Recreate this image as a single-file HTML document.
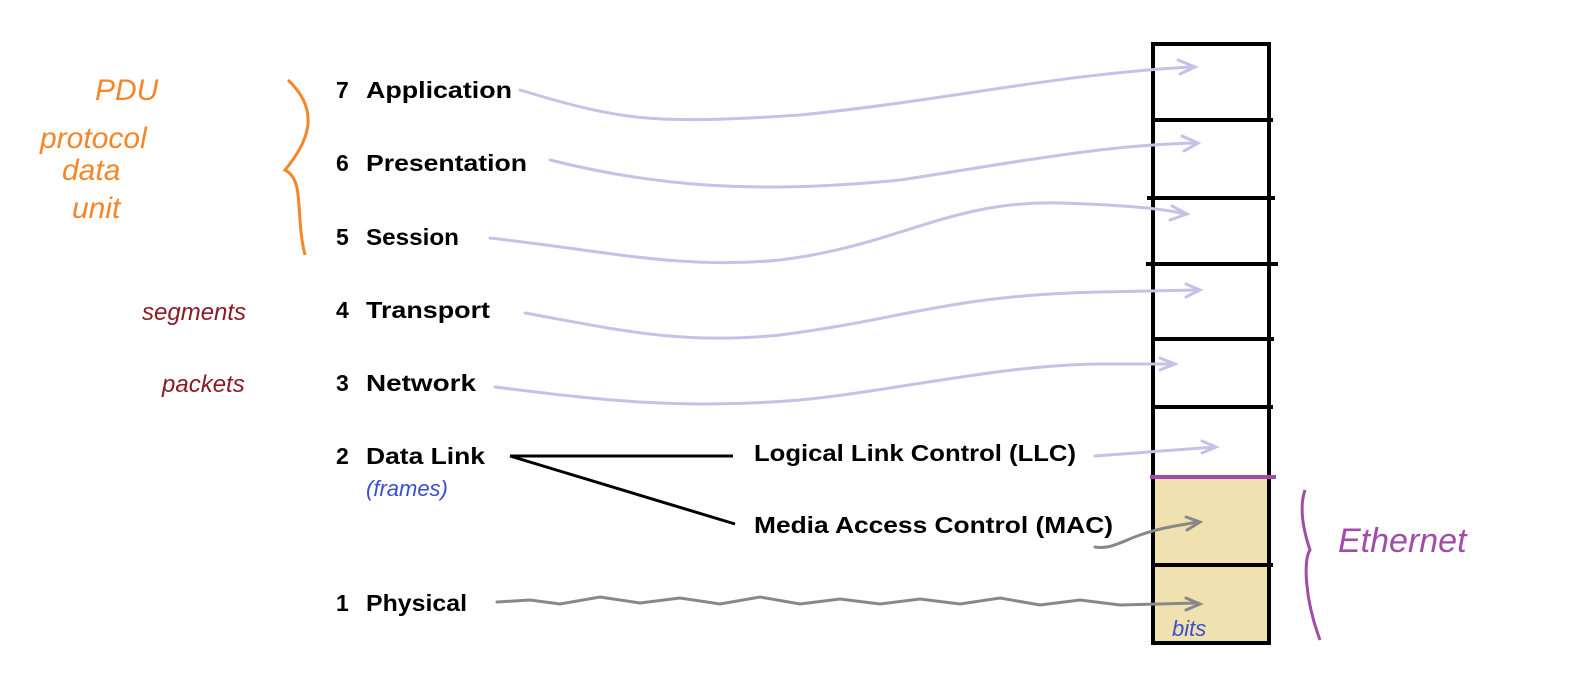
<!DOCTYPE html>
<html><head><style>
html,body{margin:0;padding:0;background:#fff;overflow:hidden;width:1585px;height:694px;}
svg{display:block;}
.l{font-family:"Liberation Sans",sans-serif;font-weight:bold;font-size:23px;fill:#000;}
.h{font-family:"Liberation Sans",sans-serif;font-style:italic;}
</style></head><body>
<svg width="1585" height="694" viewBox="0 0 1585 694" xmlns="http://www.w3.org/2000/svg">
<rect x="1153" y="477" width="116" height="166" fill="#efe2b0"/>
<g stroke="#000" stroke-width="4" fill="none">
<rect x="1153" y="44" width="116" height="599"/>
<line x1="1153" y1="120" x2="1273" y2="120"/>
<line x1="1147" y1="198" x2="1275" y2="198"/>
<line x1="1146" y1="264" x2="1278" y2="264"/>
<line x1="1151" y1="339" x2="1274" y2="339"/>
<line x1="1153" y1="407" x2="1273" y2="407"/>
<line x1="1151" y1="565" x2="1273" y2="565"/>
</g>
<line x1="1150" y1="477" x2="1276" y2="477" stroke="#a04ca8" stroke-width="4"/>
<g stroke="#c8c0e6" stroke-width="3" fill="none" stroke-linecap="round">
<path d="M520 90 C620 120 650 125 800 115 C950 100 1050 75 1190 67"/>
<path d="M1178 60 L1195 67 L1180 74"/>
<path d="M550 160 C650 185 750 195 900 180 C1000 165 1100 145 1195 143"/>
<path d="M1182 136 L1198 143 L1184 151"/>
<path d="M490 238 C600 250 680 270 780 260 C900 245 950 200 1060 203 C1120 205 1160 208 1185 214"/>
<path d="M1172 206 L1187 214 L1170 220"/>
<path d="M525 313 C620 330 680 345 780 335 C900 320 950 295 1100 292 L1198 290"/>
<path d="M1186 284 L1200 290 L1186 297"/>
<path d="M495 387 C600 400 680 410 800 400 C900 390 1000 365 1100 364 L1172 364"/>
<path d="M1160 358 L1175 364 L1160 370"/>
<path d="M1095 456 L1215 447"/>
<path d="M1202 441 L1216 447 L1202 453"/>
</g>
<g stroke="#000" stroke-width="3" fill="none">
<line x1="510" y1="456" x2="733" y2="456"/>
<line x1="510" y1="456" x2="735" y2="524"/>
</g>
<g stroke="#888" stroke-width="3" fill="none" stroke-linecap="round">
<path d="M1095 547 C1110 550 1125 540 1140 535 C1160 528 1175 526 1198 522"/>
<path d="M1186 517 L1200 522 L1187 530"/>
<path d="M497 602 L530 600 L560 604 L600 597 L640 603 L680 598 L720 604 L760 597 L800 604 L840 599 L880 604 L920 599 L960 604 L1000 598 L1040 605 L1080 600 L1120 605 L1198 603"/>
<path d="M1186 598 L1200 604 L1186 610"/>
</g>
<g class="l">
<text x="336" y="98">7</text><text x="366" y="98" textLength="146" lengthAdjust="spacingAndGlyphs">Application</text>
<text x="336" y="171">6</text><text x="366" y="171" textLength="161" lengthAdjust="spacingAndGlyphs">Presentation</text>
<text x="336" y="245">5</text><text x="366" y="245" textLength="93" lengthAdjust="spacingAndGlyphs">Session</text>
<text x="336" y="318">4</text><text x="366" y="318" textLength="124" lengthAdjust="spacingAndGlyphs">Transport</text>
<text x="336" y="391">3</text><text x="366" y="391" textLength="110" lengthAdjust="spacingAndGlyphs">Network</text>
<text x="336" y="464">2</text><text x="366" y="464" textLength="119" lengthAdjust="spacingAndGlyphs">Data Link</text>
<text x="336" y="611">1</text><text x="366" y="611" textLength="101" lengthAdjust="spacingAndGlyphs">Physical</text>
<text x="754" y="461" textLength="322" lengthAdjust="spacingAndGlyphs">Logical Link Control (LLC)</text>
<text x="754" y="533" textLength="359" lengthAdjust="spacingAndGlyphs">Media Access Control (MAC)</text>
</g>
<path d="M288 80 C320 110 310 140 285 170 C305 180 295 215 305 255" stroke="#f5862a" stroke-width="3" fill="none"/>
<g class="h" fill="#f5862a" font-size="30">
<text x="95" y="100">PDU</text>
<text x="40" y="148">protocol</text>
<text x="62" y="180">data</text>
<text x="72" y="218">unit</text>
</g>
<text class="h" x="142" y="320" fill="#8b1a24" font-size="24">segments</text>
<text class="h" x="162" y="392" fill="#8b1a24" font-size="24">packets</text>
<text class="h" x="366" y="496" fill="#3a4fcf" font-size="22">(frames)</text>
<text class="h" x="1172" y="636" fill="#3a4fcf" font-size="22">bits</text>
<path d="M1305 490 C1298 510 1305 535 1310 550 C1303 560 1305 600 1320 640" stroke="#a04ca8" stroke-width="3" fill="none"/>
<text class="h" x="1338" y="552" fill="#a04ca8" font-size="34">Ethernet</text>
</svg>
</body></html>
